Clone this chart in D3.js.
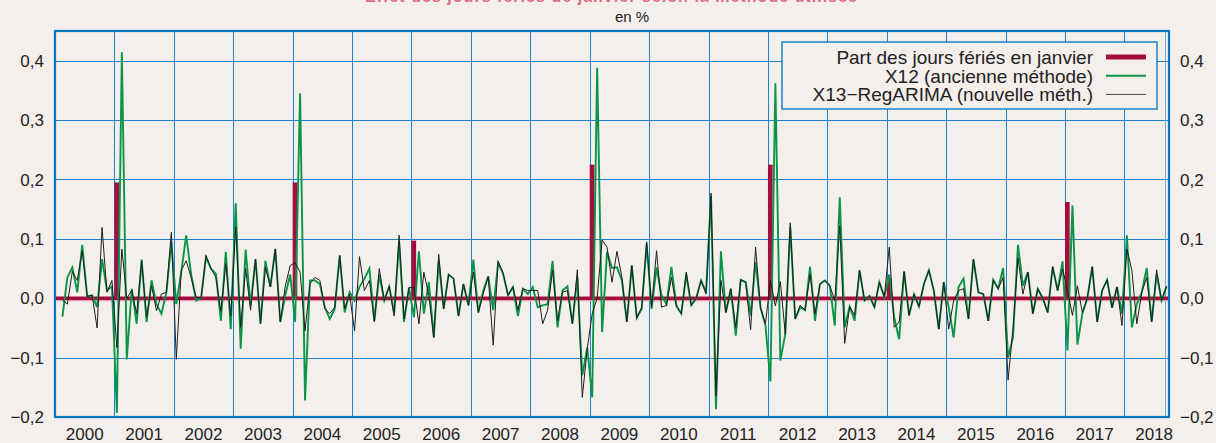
<!DOCTYPE html>
<html>
<head>
<meta charset="utf-8">
<script src="https://cdn.jsdelivr.net/npm/d3@7"></script>
<style>
  html, body { margin: 0; padding: 0; background: #f5efec; }
  #chart { width: 1216px; height: 443px; }
  text { font-family: "Liberation Sans", Arial, Helvetica, sans-serif; fill: #222; }
</style>
</head>
<body>
<div id="chart"></div>
<script>
// series start in February 2000 (month index 1), monthly, up to September 2018
const startMonth = 1;
const years = ["2000","2001","2002","2003","2004","2005","2006","2007","2008","2009",
  "2010","2011","2012","2013","2014","2015","2016","2017","2018"];
const yTicks = [-0.2, -0.1, 0, 0.1, 0.2, 0.3, 0.4];

// X12 (ancienne méthode)
const x12 = [
  -0.031, 0.035, 0.052, 0.010, 0.090, 0.003, 0.005, -0.015, 0.066, 0.013, 0.020,
  -0.193, 0.414, -0.103, 0.016, -0.043, 0.065, -0.040, 0.030, -0.010, -0.026, 0.010, 0.094,
  -0.010, 0.044, 0.106, 0.040, -0.004, 0.000, 0.069, 0.050, 0.041, -0.038, 0.078, -0.052,
  0.160, -0.085, 0.082, -0.012, 0.066, -0.043, 0.063, 0.019, 0.083, -0.040, 0.005, 0.040,
  -0.040, 0.345, -0.172, 0.030, 0.030, 0.024, -0.015, -0.035, -0.018, 0.072, -0.024, 0.010,
  -0.004, 0.019, 0.033, 0.050, -0.038, 0.040, -0.004, 0.020, -0.025, 0.095, -0.040, 0.018,
  -0.032, 0.079, -0.026, 0.027, -0.066, 0.063, -0.018, 0.040, 0.033, -0.030, 0.024, -0.012,
  0.065, -0.024, 0.013, 0.037, -0.020, 0.060, 0.041, 0.005, 0.019, -0.030, 0.016, 0.007,
  0.019, -0.015, -0.012, -0.010, 0.063, -0.049, 0.013, 0.020, -0.043, 0.035, -0.130, -0.083,
  -0.167, 0.388, -0.057, 0.078, 0.051, 0.052, 0.030, -0.040, 0.055, -0.033, -0.018, 0.092,
  -0.018, 0.052, 0.005, -0.010, 0.053, -0.012, -0.026, 0.040, -0.012, 0.000, 0.030, 0.010,
  0.172, -0.187, 0.079, -0.024, 0.016, -0.063, 0.031, 0.027, -0.029, 0.061, -0.016, -0.046,
  -0.140, 0.362, -0.105, -0.060, 0.120, -0.035, -0.015, -0.020, 0.053, -0.038, 0.024, 0.030,
  0.021, -0.046, 0.170, -0.049, -0.014, -0.038, 0.047, -0.004, 0.004, -0.015, 0.027, 0.002,
  0.040, -0.032, -0.069, 0.045, -0.029, 0.007, -0.014, 0.024, 0.047, 0.013, -0.052, 0.027,
  -0.015, -0.066, 0.019, 0.033, -0.035, 0.066, 0.010, 0.007, -0.038, 0.031, 0.016, 0.051,
  -0.100, -0.066, 0.090, 0.021, 0.044, -0.026, 0.016, 0.000, -0.024, 0.053, 0.013, 0.062,
  -0.088, 0.156, -0.078, -0.026, 0.000, 0.053, -0.040, 0.013, 0.031, -0.016, 0.019, -0.026,
  0.106, -0.049, -0.010, 0.010, 0.051, -0.040, 0.040, -0.004, 0.020
];

// X13-RegARIMA (nouvelle méthode)
const x13 = [
  -0.003, -0.010, 0.045, 0.030, 0.080, 0.003, 0.005, -0.050, 0.119, 0.010, 0.030,
  -0.083, 0.083, 0.000, 0.013, -0.026, 0.063, -0.032, 0.021, -0.021, 0.007, 0.010, 0.111,
  -0.103, 0.047, 0.063, 0.035, 0.002, 0.000, 0.072, 0.050, 0.035, -0.022, 0.058, -0.030,
  0.120, -0.049, 0.050, -0.020, 0.066, -0.043, 0.052, 0.019, 0.083, -0.040, 0.020, 0.055,
  0.060, 0.044, -0.055, 0.024, 0.035, 0.030, -0.018, -0.026, -0.015, 0.072, -0.018, 0.007,
  -0.055, 0.070, 0.013, 0.030, -0.040, 0.050, -0.004, 0.020, -0.030, 0.106, -0.035, 0.018,
  0.018, -0.043, 0.044, 0.005, -0.066, 0.074, -0.018, 0.040, 0.033, -0.030, 0.024, -0.012,
  0.044, -0.024, 0.008, 0.036, -0.079, 0.062, 0.043, 0.005, 0.019, -0.020, 0.016, 0.013,
  0.013, 0.013, -0.043, -0.020, 0.047, -0.038, 0.010, 0.013, -0.043, 0.048, -0.167, -0.085,
  -0.026, 0.000, 0.098, 0.086, 0.027, 0.079, 0.035, -0.040, 0.055, -0.033, -0.015, 0.095,
  -0.015, 0.080, -0.015, -0.012, 0.035, -0.014, -0.026, 0.044, -0.012, 0.000, 0.030, 0.007,
  0.177, -0.164, 0.030, -0.024, 0.016, -0.049, 0.031, 0.027, -0.053, 0.086, -0.016, -0.043,
  0.030, -0.013, 0.028, -0.060, 0.127, -0.035, -0.012, -0.020, 0.040, -0.026, 0.024, 0.030,
  0.021, -0.004, 0.122, -0.076, -0.014, -0.029, 0.047, -0.004, 0.004, -0.015, 0.027, 0.002,
  0.086, -0.049, -0.040, 0.045, -0.029, 0.007, -0.014, 0.024, 0.047, 0.013, -0.052, 0.027,
  -0.052, -0.004, 0.013, 0.016, -0.035, 0.066, 0.010, 0.007, -0.038, 0.031, 0.016, 0.035,
  -0.138, -0.050, 0.068, 0.007, 0.044, -0.026, 0.016, 0.000, -0.024, 0.053, 0.013, 0.049,
  0.013, -0.029, 0.021, -0.024, 0.000, 0.053, -0.040, 0.013, 0.031, -0.016, 0.019, -0.046,
  0.083, 0.047, -0.043, 0.010, 0.035, -0.040, 0.048, -0.004, 0.020
];

// part des jours fériés en janvier (non nulle seulement certaines années)
const janvierYears = [2001, 2004, 2006, 2009, 2012, 2014, 2017];
const janvierPart = [0.195, 0.195, 0.097, 0.225, 0.225, 0.033, 0.162];

const nMonths = 225; // Jan 2000 -> end of Sep 2018
const W = 1216, H = 443;
const margin = { top: 31, right: 47, bottom: 26, left: 55 };

const svg = d3.select("#chart").append("svg")
  .attr("width", W)
  .attr("height", H)
  .style("background", "#f5efec");

const x = d3.scaleLinear().domain([0, nMonths]).range([margin.left, W - margin.right]);
const y = d3.scaleLinear().domain([-0.2, 0.45]).range([H - margin.bottom, margin.top]);
const crisp = v => Math.round(v) + 0.5;

const blue = "#1b82cc";

// title (cropped at the top of the picture, as in the source) and unit
svg.append("text")
  .attr("x", 611).attr("y", 1.5)
  .attr("text-anchor", "middle")
  .attr("textLength", 492)
  .style("font-size", "16px")
  .style("font-weight", "bold")
  .style("fill", "#dc6c84")
  .text("Effet des jours fériés de janvier selon la méthode utilisée");

svg.append("text")
  .attr("x", 632).attr("y", 22)
  .attr("text-anchor", "middle")
  .style("font-size", "15px")
  .text("en %");

// grid
const grid = svg.append("g");
grid.selectAll(".hgrid")
  .data(yTicks.filter(d => d > -0.2))
  .enter().append("line")
  .attr("x1", x(0)).attr("x2", x(nMonths))
  .attr("y1", d => crisp(y(d))).attr("y2", d => crisp(y(d)))
  .attr("stroke", blue).attr("stroke-width", 1);

grid.selectAll(".vgrid")
  .data(d3.range(1, years.length))
  .enter().append("line")
  .attr("x1", d => crisp(x(d * 12))).attr("x2", d => crisp(x(d * 12)))
  .attr("y1", y(0.45)).attr("y2", y(-0.2))
  .attr("stroke", blue).attr("stroke-width", 1);

grid.append("line")
  .attr("x1", crisp(x(nMonths) - 4)).attr("x2", crisp(x(nMonths) - 4))
  .attr("y1", y(0.45)).attr("y2", y(-0.2))
  .attr("stroke", "#6aaee0").attr("stroke-width", 1);

// red series: line at zero + january bars
const red = "#a50d3d";
svg.append("line")
  .attr("x1", x(0)).attr("x2", x(nMonths))
  .attr("y1", y(0) + 1.3).attr("y2", y(0) + 1.3)
  .attr("stroke", "#e6a3b3").attr("stroke-width", 3.5);
svg.append("line")
  .attr("x1", x(0)).attr("x2", x(nMonths))
  .attr("y1", y(0)).attr("y2", y(0))
  .attr("stroke", red).attr("stroke-width", 3.5);

svg.selectAll(".bar")
  .data(janvierYears.map((yr, i) => ({ m: (yr - 2000) * 12, v: janvierPart[i] })))
  .enter().append("rect")
  .attr("x", d => x(d.m))
  .attr("width", d => x(d.m + 1) - x(d.m) - 0.3)
  .attr("y", d => y(d.v))
  .attr("height", d => y(0) - y(d.v))
  .attr("fill", red);

// lines
const line = d3.line()
  .x((d, i) => x(startMonth + i + 0.5))
  .y(d => y(d));

svg.append("path")
  .datum(x12)
  .attr("fill", "none")
  .attr("stroke", "#0a9447")
  .attr("stroke-width", 1.9)
  .attr("d", line);

svg.append("path")
  .datum(x13)
  .attr("fill", "none")
  .attr("stroke", "#1e1e1e")
  .attr("stroke-width", 1)
  .attr("d", line);

// frame
svg.append("rect")
  .attr("x", x(0)).attr("y", y(0.45))
  .attr("width", x(nMonths) - x(0))
  .attr("height", y(-0.2) - y(0.45))
  .attr("fill", "none")
  .attr("stroke", "#0a77c2")
  .attr("stroke-width", 2.2);

// axes labels
const fmt = d => (d < 0 ? "\u2212" : "") + d3.format(".1f")(Math.abs(d)).replace(".", ",");

svg.selectAll(".ylab-left")
  .data(yTicks)
  .enter().append("text")
  .attr("x", 44).attr("y", d => y(d))
  .attr("dy", "0.36em")
  .attr("text-anchor", "end")
  .style("font-size", "17px")
  .text(fmt);

svg.selectAll(".ylab-right")
  .data(yTicks)
  .enter().append("text")
  .attr("x", 1180).attr("y", d => y(d))
  .attr("dy", "0.36em")
  .attr("text-anchor", "start")
  .style("font-size", "17px")
  .text(fmt);

svg.selectAll(".xlab")
  .data(years)
  .enter().append("text")
  .attr("x", (d, i) => x(i * 12 + 6))
  .attr("y", 440)
  .attr("text-anchor", "middle")
  .style("font-size", "17px")
  .text(d => d);

// legend
const legend = svg.append("g");
legend.append("rect")
  .attr("x", 782).attr("y", 42)
  .attr("width", 375).attr("height", 67)
  .attr("fill", "#f5efec")
  .attr("stroke", blue)
  .attr("stroke-width", 1.5);

const legendItems = [
  { label: "Part des jours fériés en janvier", color: red, width: 5 },
  { label: "X12 (ancienne méthode)", color: "#0a9447", width: 1.9 },
  { label: "X13\u2212RegARIMA (nouvelle méth.)", color: "#444", width: 1 }
];

const li = legend.selectAll(".item")
  .data(legendItems)
  .enter().append("g")
  .attr("transform", (d, i) => `translate(0, ${57 + i * 18.7})`);

li.append("text")
  .attr("x", 1093).attr("y", 0)
  .attr("dy", "0.36em")
  .attr("text-anchor", "end")
  .style("font-size", "19px")
  .text(d => d.label);

li.append("line")
  .attr("x1", 1106).attr("x2", 1146)
  .attr("y1", 0).attr("y2", 0)
  .attr("stroke", d => d.color)
  .attr("stroke-width", d => d.width);
</script>
</body>
</html>
